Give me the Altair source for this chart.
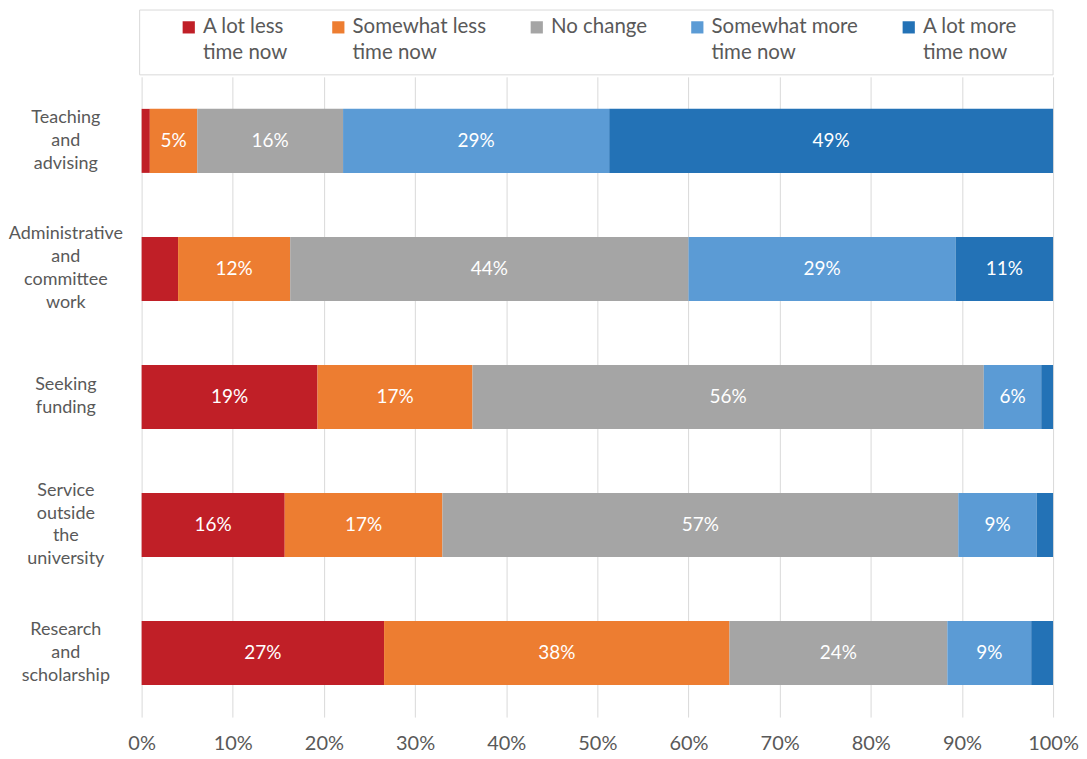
import json
import altair as alt
import pandas as pd

categories = [
    "Teaching and advising",
    "Administrative and committee work",
    "Seeking funding",
    "Service outside the university",
    "Research and scholarship",
]
category_lines = [
    ["Teaching", "and", "advising"],
    ["Administrative", "and", "committee", "work"],
    ["Seeking", "funding"],
    ["Service", "outside", "the", "university"],
    ["Research", "and", "scholarship"],
]
series = [
    "A lot less time now",
    "Somewhat less time now",
    "No change",
    "Somewhat more time now",
    "A lot more time now",
]
series_lines = [
    ["A lot less", "time now"],
    ["Somewhat less", "time now"],
    ["No change", " "],
    ["Somewhat more", "time now"],
    ["A lot more", "time now"],
]
colors = ["#C01F27", "#ED7D31", "#A5A5A5", "#5B9BD5", "#2372B6"]

# percent values per series, in category order
a_lot_less = [0.9, 4.0, 19.3, 15.7, 26.6]
somewhat_less = [5.2, 12.3, 17.0, 17.3, 37.9]
no_change = [16.0, 43.7, 56.1, 56.6, 23.9]
somewhat_more = [29.2, 29.3, 6.3, 8.6, 9.2]
a_lot_more = [48.7, 10.7, 1.3, 1.8, 2.4]

x_ticks = [0, 0.1, 0.2, 0.3, 0.4, 0.5, 0.6, 0.7, 0.8, 0.9, 1.0]

all_values = [a_lot_less, somewhat_less, no_change, somewhat_more, a_lot_more]
rows = []
for si, (s, vals) in enumerate(zip(series, all_values)):
    for ci, c in enumerate(categories):
        rows.append({"category": c, "series": s, "order": si, "value": vals[ci] / 100.0})
df = pd.DataFrame(rows)

FONT = "Lato"
TXT = "#595959"
Y_LH = 23

y_lines_map = json.dumps(dict(zip(categories, category_lines)))
y_label_expr = y_lines_map + "[datum.label]"
y_offset_expr = f"-(length({y_lines_map}[datum.value]) - 1) * {Y_LH / 2}"
legend_label_expr = json.dumps(dict(zip(series, series_lines))) + "[datum.label]"

W, H = 914, 642

y_enc = alt.Y(
    "category:N",
    sort=categories,
    title=None,
    scale=alt.Scale(paddingInner=0.5, paddingOuter=0.25),
    axis=alt.Axis(
        labelExpr=y_label_expr,
        labelAlign="center",
        labelBaseline="middle",
        labelOffset={"expr": y_offset_expr},
        labelPadding=76.5,
        labelLineHeight=Y_LH,
        labelFont=FONT,
        labelFontSize=18,
        labelColor=TXT,
        ticks=False,
        domain=False,
        grid=False,
        labelLimit=300,
    ),
)

base = alt.Chart(df).transform_stack(
    stack="value",
    groupby=["category"],
    as_=["x0", "x1"],
    sort=[alt.SortField("order", order="ascending")],
)

bars = base.mark_bar().encode(
    x=alt.X(
        "x0:Q",
        scale=alt.Scale(domain=[0, 1], nice=False, zero=True),
        title=None,
        axis=alt.Axis(
            values=x_ticks,
            format=".0%",
            grid=True,
            gridColor="#D9D9D9",
            gridWidth=1,
            domain=False,
            ticks=False,
            labelFlush=False,
            labelOverlap=False,
            labelPadding=17,
            labelFont=FONT,
            labelFontSize=20,
            labelColor=TXT,
        ),
    ),
    x2="x1:Q",
    y=y_enc,
    color=alt.Color(
        "series:N",
        sort=series,
        scale=alt.Scale(domain=series, range=colors),
        legend=alt.Legend(
            title=None,
            orient="none",
            legendX=37,
            legendY=-60,
            direction="horizontal",
            columns=5,
            columnPadding=40,
            symbolType="square",
            symbolSize=150,
            symbolStrokeWidth=0,
            labelOffset=4,
            labelExpr=legend_label_expr,
            labelFont=FONT,
            labelFontSize=20.5,
            labelColor=TXT,
            labelLimit=300,
            padding=0,
        ),
    ),
    order=alt.Order("order:Q"),
)

labels = base.transform_filter("datum.value >= 0.05").transform_calculate(
    mid="(datum.x0 + datum.x1) / 2"
).mark_text(color="white", font=FONT, fontSize=19, baseline="middle", align="center").encode(
    x=alt.X("mid:Q"),
    y=alt.Y("category:N", sort=categories),
    text=alt.Text("value:Q", format=".0%"),
)

frame = alt.Chart(pd.DataFrame({"k": [0]})).mark_rect(
    fill="white", stroke="#D9D9D9", strokeWidth=1
).encode(
    x=alt.value(-2), x2=alt.value(W), y=alt.value(-67), y2=alt.value(-2)
)

chart = alt.layer(frame, bars, labels).properties(
    width=W, height=H, padding=0
).configure(style={"guide-label": {"lineHeight": 26}}).configure_view(strokeWidth=0)

chart.save("out.html", embed_options={"renderer": "svg", "actions": False})
